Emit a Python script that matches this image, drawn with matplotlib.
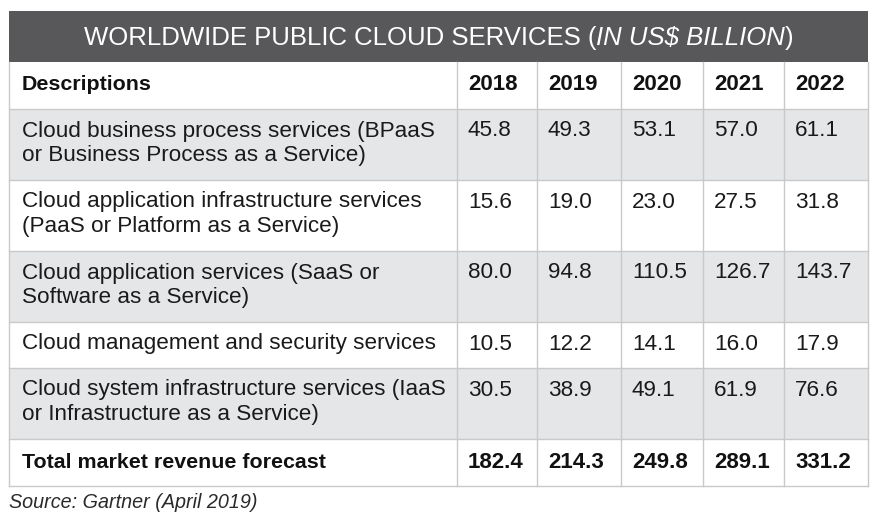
import matplotlib
matplotlib.use('agg')
import matplotlib.pyplot as plt
from matplotlib.patches import Rectangle

########################################################################
# Data -----------------------------------------------------------------
########################################################################
years = ['2018', '2019', '2020', '2021', '2022']
descriptions = [
    'Cloud business process services (BPaaS\nor Business Process as a Service)',
    'Cloud application infrastructure services\n(PaaS or Platform as a Service)',
    'Cloud application services (SaaS or\nSoftware as a Service)',
    'Cloud management and security services',
    'Cloud system infrastructure services (IaaS\nor Infrastructure as a Service)',
]
bpaas = [45.8, 49.3, 53.1, 57.0, 61.1]
paas = [15.6, 19.0, 23.0, 27.5, 31.8]
saas = [80.0, 94.8, 110.5, 126.7, 143.7]
mgmt = [10.5, 12.2, 14.1, 16.0, 17.9]
iaas = [30.5, 38.9, 49.1, 61.9, 76.6]
total = [182.4, 214.3, 249.8, 289.1, 331.2]
total_label = 'Total market revenue forecast'
source = 'Source: Gartner (April 2019)'

########################################################################
# Layout (pixels) ------------------------------------------------------
########################################################################
W, H = 880, 521
x_left, x_right = 9, 868
col_x = [457, 537, 621, 703, 784]          # left edge of year columns
y_title = (11, 62)
y_rows = [62, 109, 180, 251, 322, 368, 439, 486]   # header, 5 rows, total
grid = '#c9c9c9'
shade = '#e5e6e8'
bar = '#58585a'
FONT = 'Liberation Sans'
FS = 16.2       # body text
FSB = 15.4      # bold labels
FSN = 16.0      # bold numbers

fig = plt.figure(figsize=(W / 100, H / 100), dpi=100)
ax = fig.add_axes([0, 0, 1, 1])
ax.set_xlim(0, W)
ax.set_ylim(H, 0)
ax.axis('off')

# title bar
ax.add_patch(Rectangle((x_left, y_title[0]), x_right - x_left, y_title[1] - y_title[0],
                       facecolor=bar, edgecolor='none'))

# row shading
shaded = [False, True, False, True, False, True, False]
for i in range(len(y_rows) - 1):
    if shaded[i]:
        ax.add_patch(Rectangle((x_left, y_rows[i]), x_right - x_left, y_rows[i + 1] - y_rows[i],
                               facecolor=shade, edgecolor='none'))

# grid lines
for y in y_rows[1:]:
    ax.plot([x_left, x_right], [y, y], color=grid, lw=1)
for x in [x_left] + col_x + [x_right]:
    ax.plot([x, x], [y_rows[0], y_rows[-1]], color=grid, lw=1)

# title with italic part
renderer = fig.canvas.get_renderer()
parts = [('WORLDWIDE PUBLIC CLOUD SERVICES (', 'normal'),
         ('IN US$ BILLION', 'italic'),
         (')', 'normal')]
tx = []
widths = []
for s, st in parts:
    t = ax.text(0, 38, s, color='white', fontsize=18.5, family=FONT, style=st,
                va='center', ha='left')
    bb = t.get_window_extent(renderer)
    widths.append(bb.width)
    tx.append(t)
x0 = (x_left + x_right) / 2 - sum(widths) / 2
for t, w in zip(tx, widths):
    t.set_x(x0)
    x0 += w

# header
ax.text(22, 84.5, 'Descriptions', fontsize=FSB, family=FONT, weight='bold', va='center', color='#111')
for x, yr in zip(col_x, years):
    ax.text(x + 11, 84.5, yr, fontsize=FSN, family=FONT, weight='bold', va='center', color='#111')

# data rows
series = [bpaas, paas, saas, mgmt, iaas]
for i, (desc, vals) in enumerate(zip(descriptions, series)):
    top = y_rows[i + 1]
    ax.text(22, top + 11.5, desc, fontsize=FS, family=FONT, va='top', color='#1a1a1a',
            linespacing=1.22)
    for x, v in zip(col_x, vals):
        ax.text(x + 11, top + 11.5, '%.1f' % v, fontsize=FS, family=FONT, va='top', color='#1a1a1a')

# total row
yc = (y_rows[-2] + y_rows[-1]) / 2
ax.text(22, yc, total_label, fontsize=FSB, family=FONT, weight='bold', va='center', color='#111')
for x, v in zip(col_x, total):
    ax.text(x + 11, yc, '%.1f' % v, fontsize=FSN, family=FONT, weight='bold', va='center', color='#111')

# source
ax.text(9, 502, source, fontsize=14.2, family=FONT, style='italic', va='center', color='#2a2a2a')

fig.savefig('out.png', dpi=100)
